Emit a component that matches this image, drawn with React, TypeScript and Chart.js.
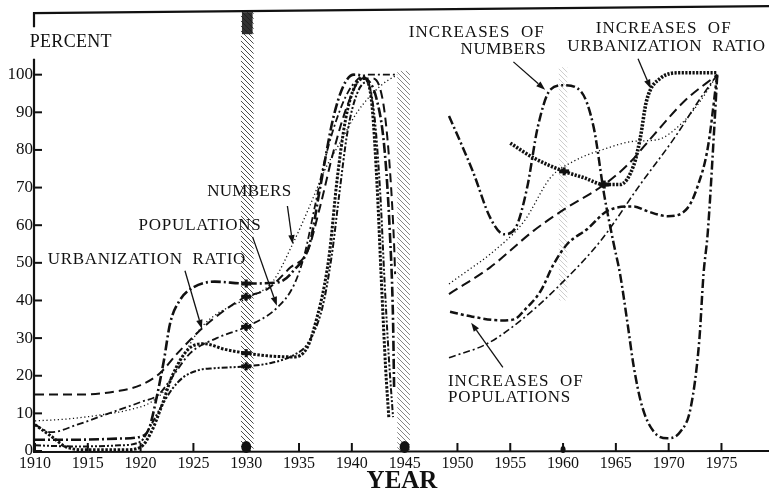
import React, { useEffect, useRef } from 'react';
import { Chart, registerables } from 'chart.js';

Chart.register(...registerables);

const FONT = '"Liberation Serif", "Times New Roman", serif';
const INK = '#111111';

// ---- axes ----
const xTickYears = [1910, 1915, 1920, 1925, 1930, 1935, 1940, 1945, 1950, 1955, 1960, 1965, 1970, 1975];
const yTickValues = [0, 10, 20, 30, 40, 50, 60, 70, 80, 90, 100];
const xMin = 1910;
const xMax = 1979.5;
const yMin = 0;
const yMax = 116.6;

// ---- left panel (1910-1945), [year, percent] ----
const urbanizationRatio: [number, number][] = [
  [1910, 15], [1914, 15], [1918, 16], [1920, 17.5], [1921.8, 20.6], [1923.5, 26], [1925.6, 32], [1928, 37.5],
  [1930, 41], [1932, 43], [1934.2, 48.8], [1935.8, 53], [1937, 65], [1938.3, 80], [1939.6, 92], [1941, 99],
  [1942, 99], [1943, 92], [1943.6, 75], [1944, 55], [1944.1, 47],
];
const numbers: [number, number][] = [
  [1910, 8], [1913, 8.5], [1916, 9.5], [1919, 11], [1921, 13], [1922.5, 17], [1924, 25], [1925.5, 32], [1927, 36],
  [1930, 40.5], [1932.5, 45], [1934.4, 55], [1936, 65], [1937.5, 75], [1938.9, 82], [1940.5, 90], [1942.7, 97], [1944.3, 100],
];
const populations: [number, number][] = [
  [1910, 7], [1911.5, 5], [1914, 7], [1917, 10], [1920, 13], [1921.7, 15], [1923, 19.7], [1924.7, 26], [1927.2, 30],
  [1930, 33], [1932.9, 38], [1934.5, 44], [1935.5, 52], [1936.5, 65], [1937.5, 78], [1938.8, 90], [1940, 97],
  [1941.5, 100], [1942.8, 100], [1944.3, 100],
];
const heavyDashDot: [number, number][] = [
  [1910, 3], [1914, 3], [1918, 3.3], [1920, 3.8], [1920.8, 6], [1921.5, 14], [1922.2, 24], [1922.8, 34], [1923.7, 40],
  [1925, 43.5], [1927, 45], [1930, 44.5], [1933, 44.8], [1934.5, 48], [1936, 55], [1937, 70], [1938.2, 88], [1939.2, 97],
  [1940.2, 100], [1941.3, 99], [1942.3, 94], [1943.1, 80], [1943.6, 58], [1943.9, 35], [1944, 17],
];
const heavyDotted: [number, number][] = [
  [1910, 7], [1911.5, 4], [1913, 1], [1915, 0.3], [1918.5, 0.3], [1920, 1], [1921, 5], [1922, 12], [1923, 20],
  [1924.5, 27], [1926, 28.5], [1928, 27], [1930, 26], [1932, 25.3], [1934.5, 25], [1935.8, 27.6], [1936.7, 35.5],
  [1937.4, 44], [1937.9, 53], [1938.6, 72], [1939.4, 88], [1940.3, 97], [1941.2, 99], [1941.9, 92], [1942.4, 70],
  [1942.8, 45], [1943.2, 22], [1943.5, 9],
];
const dashDotDot: [number, number][] = [
  [1910, 1.5], [1914, 1.2], [1918, 1.5], [1920, 2.5], [1921, 7], [1922, 12], [1923, 16.5], [1924, 19.5], [1925.5, 21.5],
  [1927, 22], [1930, 22.5], [1932.5, 23.5], [1934.5, 25.5], [1935.8, 28.5], [1937.2, 38], [1938.1, 52], [1938.8, 68],
  [1939.6, 85], [1940.5, 95], [1941.4, 98], [1942.1, 90], [1942.7, 68], [1943.1, 45], [1943.5, 25], [1943.9, 9],
];

// ---- right panel (1949-1975), [year, percent] ----
const increasesOfNumbers: [number, number][] = [
  [1949.2, 89], [1950.3, 82], [1951.5, 74], [1953.1, 62], [1954.4, 57.6], [1955.5, 59.3], [1956.6, 70], [1957.6, 86],
  [1958.8, 96], [1960.1, 97.2], [1961.7, 95.5], [1962.9, 86], [1963.9, 68], [1964.8, 55], [1965.4, 47], [1966.1, 34],
  [1966.7, 22.3], [1967.5, 11.7], [1968.6, 5.1], [1969.9, 3.4], [1971.1, 5.1], [1972.1, 11.7], [1972.9, 29.4],
  [1973.3, 47], [1973.7, 58], [1974.3, 85], [1974.6, 100],
];
const increasesOfUrbanization: [number, number][] = [
  [1955, 81.8], [1957.2, 77.9], [1960.1, 74.3], [1962, 72.6], [1963.9, 70.8], [1965.4, 70.8], [1966.7, 76],
  [1967.3, 83], [1967.9, 93], [1969.2, 99], [1971.1, 100.5], [1974.6, 100.5],
];
const increasesDotted: [number, number][] = [
  [1949.2, 44.4], [1951, 48], [1953.1, 52.3], [1956.3, 61], [1958.8, 72.6], [1961, 77], [1964.2, 80.5], [1966.7, 82.3],
  [1968.9, 82.7], [1971.1, 86.7], [1973, 93], [1974.6, 100],
];
const increasesDashed: [number, number][] = [
  [1949.2, 41.7], [1953.1, 48.8], [1957.2, 58.5], [1960.1, 64.2], [1963.9, 70.8], [1966.1, 76], [1968.6, 84],
  [1971.5, 93], [1974.6, 100],
];
const increasesOfPopulations: [number, number][] = [
  [1949.3, 37], [1951.4, 35.7], [1954.1, 34.7], [1955.4, 35], [1956.3, 37.3], [1957.9, 42.6], [1959.1, 49.6],
  [1960.4, 55], [1962.3, 59], [1964.2, 63.8], [1966.7, 65], [1967.9, 63.8], [1969.9, 62.4], [1971.8, 64.6],
  [1972.7, 70], [1973.7, 80.5], [1974.6, 100],
];
const increasesDashDot: [number, number][] = [
  [1949.2, 24.8], [1952.8, 28.5], [1956, 34.7], [1959.8, 44.4], [1963.6, 56], [1967.3, 70.8], [1970.5, 83],
  [1973, 93.7], [1974.6, 100],
];

// ---- annotations (data units) ----
type Label = { text: string; x: number; y: number; size: number; spacing: number };
const labels: Label[] = [
  { text: 'PERCENT', x: 1909.5, y: 108.7, size: 18, spacing: 0.3 },
  { text: 'NUMBERS', x: 1926.3, y: 69.0, size: 17, spacing: 0.3 },
  { text: 'POPULATIONS', x: 1919.8, y: 59.8, size: 17, spacing: 0.8 },
  { text: 'URBANIZATION  RATIO', x: 1911.2, y: 50.8, size: 17, spacing: 0.7 },
  { text: 'INCREASES  OF', x: 1945.4, y: 111.1, size: 17, spacing: 1 },
  { text: 'NUMBERS', x: 1950.3, y: 106.6, size: 17, spacing: 0.5 },
  { text: 'INCREASES  OF', x: 1963.1, y: 112.2, size: 17, spacing: 1 },
  { text: 'URBANIZATION  RATIO', x: 1960.4, y: 107.4, size: 17, spacing: 0.7 },
  { text: 'INCREASES  OF', x: 1949.1, y: 18.5, size: 17, spacing: 1 },
  { text: 'POPULATIONS', x: 1949.1, y: 14.3, size: 17, spacing: 0.8 },
];
const arrows: [number, number, number, number][] = [
  [1933.9, 65.1, 1934.4, 55.0],
  [1930.6, 56.9, 1932.9, 38.6],
  [1924.2, 47.9, 1925.8, 32.5],
  [1955.3, 103.4, 1958.3, 96.0],
  [1967.1, 104.2, 1968.3, 96.3],
  [1954.3, 22.2, 1951.3, 34.1],
];
const bands = [
  { x0: 1929.5, x1: 1930.7, y0: 0, y1: 116.6, alpha: 0.8 },
  { x0: 1944.3, x1: 1945.5, y0: 0, y1: 101, alpha: 0.55 },
  { x0: 1959.6, x1: 1960.4, y0: 40, y1: 102, alpha: 0.22 },
];
const bandMarks = [1930, 1945, 1960];
// [dataset index, year] where the scan shows a dark blot on a curve
const blots: [number, number][] = [
  [0, 1930], [1, 1930], [3, 1930], [4, 1930], [5, 1930], [7, 1960.1], [7, 1963.9],
];

function toPoints(arr: [number, number][]) {
  return arr.map(([x, y]) => ({ x, y }));
}

function ds(data: [number, number][], dash: number[], width: number) {
  return {
    data: toPoints(data),
    borderColor: INK,
    borderWidth: width,
    borderDash: dash,
    pointRadius: 0,
    fill: false,
    cubicInterpolationMode: 'monotone' as const,
    borderCapStyle: 'butt' as const,
  };
}

function makePattern(ctx: CanvasRenderingContext2D) {
  const c = document.createElement('canvas');
  c.width = 5;
  c.height = 5;
  const p = c.getContext('2d')!;
  p.strokeStyle = '#222';
  p.lineWidth = 1;
  p.beginPath();
  p.moveTo(-1, -1);
  p.lineTo(6, 6);
  p.stroke();
  return ctx.createPattern(c, 'repeat');
}

const decor = {
  id: 'decor',
  beforeDraw(chart: any) {
    const { ctx, width, height } = chart;
    ctx.save();
    ctx.fillStyle = '#fff';
    ctx.fillRect(0, 0, width, height);
    ctx.restore();
  },
  beforeDatasetsDraw(chart: any) {
    const { ctx } = chart;
    const xs = chart.scales.x;
    const ys = chart.scales.y;
    const pat = makePattern(ctx);
    ctx.save();
    bands.forEach((b) => {
      const x0 = xs.getPixelForValue(b.x0);
      const x1 = xs.getPixelForValue(b.x1);
      const y0 = ys.getPixelForValue(b.y1);
      const y1 = ys.getPixelForValue(b.y0);
      ctx.globalAlpha = b.alpha;
      ctx.fillStyle = pat;
      ctx.fillRect(x0, y0, x1 - x0, y1 - y0);
    });
    const a = xs.getPixelForValue(bands[0].x0);
    const bb = xs.getPixelForValue(bands[0].x1);
    ctx.globalAlpha = 0.9;
    ctx.fillStyle = '#1a1a1a';
    ctx.fillRect(a + 1, chart.chartArea.top, bb - a - 2, 22);
    ctx.restore();
  },
  afterDatasetsDraw(chart: any) {
    const { ctx, chartArea } = chart;
    const xs = chart.scales.x;
    const ys = chart.scales.y;
    const { left, right, top, bottom } = chartArea;
    ctx.save();
    ctx.strokeStyle = INK;
    ctx.fillStyle = INK;
    ctx.setLineDash([]);
    // blots on curves
    blots.forEach(([di, yr]) => {
      const pts = chart.data.datasets[di].data as { x: number; y: number }[];
      const idx = pts.findIndex((p) => p.x === yr);
      if (idx < 0) return;
      const el = chart.getDatasetMeta(di).data[idx];
      ctx.fillRect(el.x - 5, el.y - 2, 10, 4);
      ctx.fillRect(el.x - 1.5, el.y - 4, 3, 8);
    });
    // frame top
    ctx.lineWidth = 2.2;
    ctx.beginPath();
    ctx.moveTo(left - 2, top + 1);
    ctx.lineTo(right, top - 6);
    ctx.stroke();
    // left axis (broken for PERCENT)
    ctx.beginPath();
    ctx.moveTo(left - 1, top);
    ctx.lineTo(left - 1, top + 15);
    ctx.moveTo(left - 1, ys.getPixelForValue(104.2));
    ctx.lineTo(left - 1, bottom + 1);
    ctx.stroke();
    // bottom axis
    ctx.beginPath();
    ctx.moveTo(left - 2, bottom + 1);
    ctx.lineTo(right, bottom);
    ctx.stroke();
    // inward ticks
    ctx.lineWidth = 2;
    yTickValues.forEach((v) => {
      const y = ys.getPixelForValue(v);
      ctx.beginPath();
      ctx.moveTo(left, y);
      ctx.lineTo(left + 7, y);
      ctx.stroke();
    });
    xTickYears.forEach((v) => {
      const x = xs.getPixelForValue(v);
      ctx.beginPath();
      ctx.moveTo(x, bottom);
      ctx.lineTo(x, bottom - 8);
      ctx.stroke();
    });
    bandMarks.forEach((v, i) => {
      const x = xs.getPixelForValue(v);
      const r = i === 2 ? 2.5 : 5;
      ctx.beginPath();
      ctx.ellipse(x, bottom - r + 1, r, r + 1, 0, 0, Math.PI * 2);
      ctx.fill();
    });
    // labels
    ctx.textBaseline = 'middle';
    ctx.textAlign = 'left';
    labels.forEach((l) => {
      ctx.font = `${l.size}px ${FONT}`;
      (ctx as any).letterSpacing = `${l.spacing}px`;
      ctx.fillText(l.text, xs.getPixelForValue(l.x), ys.getPixelForValue(l.y));
    });
    (ctx as any).letterSpacing = '0px';
    // arrows
    ctx.lineWidth = 1.3;
    arrows.forEach(([x1v, y1v, x2v, y2v]) => {
      const x1 = xs.getPixelForValue(x1v);
      const y1 = ys.getPixelForValue(y1v);
      const x2 = xs.getPixelForValue(x2v);
      const y2 = ys.getPixelForValue(y2v);
      const ang = Math.atan2(y2 - y1, x2 - x1);
      const hl = 9;
      const hw = 3.2;
      const bx = x2 - hl * Math.cos(ang);
      const by = y2 - hl * Math.sin(ang);
      ctx.beginPath();
      ctx.moveTo(x1, y1);
      ctx.lineTo(bx, by);
      ctx.stroke();
      ctx.beginPath();
      ctx.moveTo(x2, y2);
      ctx.lineTo(bx + hw * Math.sin(ang), by - hw * Math.cos(ang));
      ctx.lineTo(bx - hw * Math.sin(ang), by + hw * Math.cos(ang));
      ctx.closePath();
      ctx.fill();
    });
    ctx.restore();
  },
};

export default function App() {
  const ref = useRef<HTMLCanvasElement | null>(null);
  useEffect(() => {
    if (!ref.current) return;
    const chart = new Chart(ref.current, {
      type: 'line',
      data: {
        datasets: [
          ds(heavyDashDot, [10, 3, 2, 3], 2.6),
          ds(urbanizationRatio, [9, 5], 2),
          ds(numbers, [1.2, 2.6], 1.3),
          ds(populations, [7, 3, 2, 3], 1.8),
          ds(heavyDotted, [2.5, 1.6], 3),
          ds(dashDotDot, [6, 2, 2, 2, 2, 2], 2),
          ds(increasesOfNumbers, [9, 3, 2, 3], 2.5),
          ds(increasesOfUrbanization, [2.2, 1.4], 3.6),
          ds(increasesDotted, [1.2, 2.6], 1.3),
          ds(increasesDashed, [10, 5], 2),
          ds(increasesOfPopulations, [8, 3, 3, 3], 2.5),
          ds(increasesDashDot, [7, 3, 2, 3], 1.6),
        ] as any,
      },
      options: {
        animation: false,
        responsive: false,
        events: [],
        layout: { padding: { top: 10, right: 0, left: 0, bottom: 0 } },
        plugins: { legend: { display: false }, tooltip: { enabled: false } },
        scales: {
          x: {
            type: 'linear',
            min: xMin,
            max: xMax,
            afterFit: (s: any) => { s.height = 46; },
            afterBuildTicks: (s: any) => { s.ticks = xTickYears.map((v) => ({ value: v })); },
            grid: { display: false, drawTicks: false },
            border: { display: false },
            ticks: {
              padding: 3,
              autoSkip: false,
              maxRotation: 0,
              color: INK,
              font: { family: FONT, size: 16 },
              callback: (v: any) => String(v),
            },
            title: {
              display: true,
              text: 'YEAR',
              color: INK,
              padding: 0,
              font: { family: FONT, size: 25, weight: 'bold' },
            },
          },
          y: {
            type: 'linear',
            min: yMin,
            max: yMax,
            afterFit: (s: any) => { s.width = 35; },
            afterBuildTicks: (s: any) => { s.ticks = yTickValues.map((v) => ({ value: v })); },
            grid: { display: false, drawTicks: false },
            border: { display: false },
            ticks: {
              padding: 2,
              color: INK,
              font: { family: FONT, size: 17 },
              callback: (v: any) => String(v),
            },
          },
        },
      } as any,
      plugins: [decor],
    });
    return () => chart.destroy();
  }, []);
  return (
    <div style={{ position: 'absolute', left: 0, top: 0, width: 769, height: 497 }}>
      <canvas ref={ref} width={769} height={497} style={{ display: 'block' }} />
    </div>
  );
}
